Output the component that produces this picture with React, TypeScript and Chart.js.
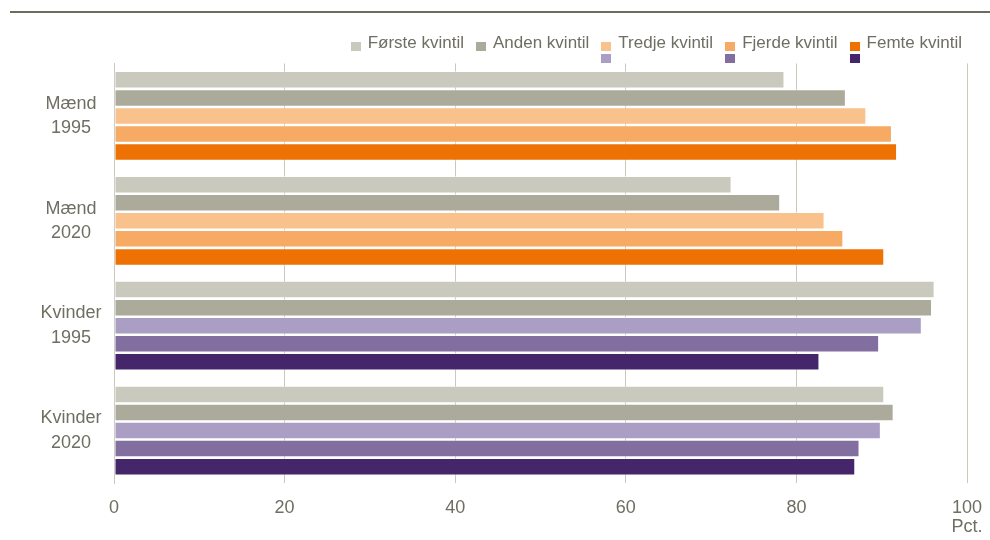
import React, { useEffect, useRef } from "react";
import { Chart, registerables } from "chart.js";

Chart.register(...registerables);

const categories: string[][] = [
  ["Mænd", "1995"],
  ["Mænd", "2020"],
  ["Kvinder", "1995"],
  ["Kvinder", "2020"],
];
const seriesNames = ["Første kvintil", "Anden kvintil", "Tredje kvintil", "Fjerde kvintil", "Femte kvintil"];
const forste = [78.6, 72.4, 96.2, 90.3];
const anden = [85.8, 78.1, 95.9, 91.4];
const tredje = [88.2, 83.3, 94.7, 89.9];
const fjerde = [91.2, 85.5, 89.7, 87.4];
const femte = [91.8, 90.3, 82.7, 86.9];
const xTicks = [0, 20, 40, 60, 80, 100];
const unitLabel = "Pct.";

const menColors = ["#c9c9bd", "#acab9b", "#f9c18b", "#f6aa63", "#ee7203"];
const womenColors = ["#c9c9bd", "#acab9b", "#aa9ec4", "#836ea0", "#45266a"];

const TEXT = "#6f6e62";
const GRID = "#c8c8bd";
const FONT = "'Liberation Sans', Arial, sans-serif";

export default function App() {
  const ref = useRef<HTMLCanvasElement | null>(null);

  useEffect(() => {
    if (!ref.current) return;
    const values = [forste, anden, tredje, fjerde, femte];
    const chart = new Chart(ref.current, {
      type: "bar",
      data: {
        labels: categories,
        datasets: values.map((v, i) => ({
          label: seriesNames[i],
          data: v,
          backgroundColor: [menColors[i], menColors[i], womenColors[i], womenColors[i]],
          borderColor: "rgba(255,255,255,0.55)",
          borderWidth: 1,
          borderSkipped: false,
          barPercentage: 0.97,
          categoryPercentage: 0.86,
        })),
      },
      options: {
        indexAxis: "y",
        animation: false,
        responsive: false,
        maintainAspectRatio: false,
        layout: { padding: { top: 63.5, right: 23, bottom: 3, left: 0 } },
        plugins: {
          legend: { display: false },
          tooltip: { enabled: false },
        },
        scales: {
          x: {
            min: 0,
            max: 100,
            afterBuildTicks: (scale: any) => {
              scale.ticks = xTicks.map((v) => ({ value: v }));
            },
            afterFit: (scale: any) => {
              scale.height = 54;
              scale.paddingLeft = 0;
              scale.paddingRight = 0;
            },
            grid: { color: GRID, lineWidth: 1, drawTicks: false },
            border: { display: false },
            ticks: {
              padding: 15.5,
              color: TEXT,
              font: { family: FONT, size: 18, lineHeight: 1.06 },
              callback: (value: any) => (Number(value) === 100 ? [String(value), unitLabel] : String(value)),
              maxRotation: 0,
            },
          },
          y: {
            grid: { display: false, drawTicks: false },
            border: { display: true, color: GRID, width: 1 },
            afterFit: (scale: any) => {
              scale.width = 114;
              scale.paddingTop = 0;
              scale.paddingBottom = 0;
            },
            ticks: {
              crossAlign: "center",
              padding: 12.5,
              color: TEXT,
              font: { family: FONT, size: 18, lineHeight: 1.36 },
            },
          },
        },
      },
    });
    return () => chart.destroy();
  }, []);

  const legendItems = seriesNames.map((name, i) => (
    <div key={name} style={{ display: "flex", alignItems: "flex-start", marginLeft: i === 0 ? 0 : 12 }}>
      <div style={{ display: "flex", flexDirection: "column", marginTop: 10, marginRight: 7 }}>
        <div style={{ width: 10, height: 9, background: menColors[i] }} />
        {i >= 2 ? <div style={{ width: 10, height: 9, background: womenColors[i], marginTop: 3 }} /> : null}
      </div>
      <div style={{ fontFamily: FONT, fontSize: 17, color: TEXT, lineHeight: "22px", whiteSpace: "nowrap" }}>{name}</div>
    </div>
  ));

  return (
    <div style={{ position: "absolute", left: 0, top: 0, width: 990, height: 540, background: "#ffffff", overflow: "hidden" }}>
      <div style={{ position: "absolute", left: 10, top: 11, width: 980, height: 2, background: "#6e6c5c" }} />
      <canvas ref={ref} width={990} height={540} style={{ position: "absolute", left: 0, top: 0, width: 990, height: 540 }} />
      <div style={{ position: "absolute", right: 28, top: 32, display: "flex", alignItems: "flex-start" }}>{legendItems}</div>
    </div>
  );
}
